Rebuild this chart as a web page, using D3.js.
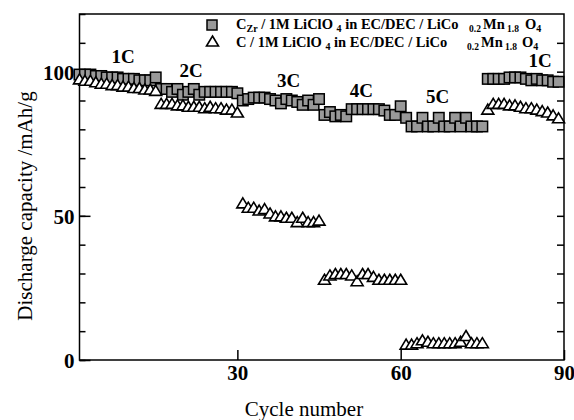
<!DOCTYPE html>
<html lang="en">
<head>
    <meta charset="UTF-8">
    <title>Discharge capacity vs cycle number</title>
    <script src="https://d3js.org/d3.v7.min.js"></script>
    <style>
        body, html {
            margin: 0;
            padding: 0;
            background: #fff;
            overflow: hidden;
        }
        svg text {
            font-family: "Liberation Serif", "Times New Roman", serif;
            fill: #000;
        }
    </style>
</head>
<body>
    <div id="chart"></div>

    <script>
        // cycle numbers
        const cycles = d3.range(1, 90);

        // C_Zr cell (gray squares), 1C / 2C / 3C / 4C / 5C / 1C
        const czrValues = [
            99, 99, 99, 98.5, 98.5, 98, 98, 98, 97.5, 97.5, 97.5, 97, 97, 97, 98,
            94, 94, 93, 94, 92, 93, 94, 92, 93, 93, 93, 93, 93, 93, 92.5,
            90, 90.5, 91, 91, 91, 90.5, 90, 89, 90.5, 90, 89.5, 88.5, 90, 88.5, 90.5,
            85, 86, 84.5, 85, 84.5, 87, 87, 87, 87, 87, 87, 86.5, 85, 85, 88,
            84, 81, 81, 84, 81, 81, 84, 81, 81, 84, 81, 84, 81, 81, 81,
            97.5, 97.5, 97.5, 97.5, 98, 98, 98, 97.5, 97, 97.5, 97, 97, 96.5, 96.5
        ];

        // C cell (open triangles)
        const cValues = [
            97.5, 97, 97, 96.5, 96, 96, 95.5, 95.5, 95, 95, 94.5, 94.5, 94, 94, 93.5,
            89, 89, 89, 88.5, 88.5, 88, 88, 88, 87.5, 88, 87.5, 87.5, 87, 87, 86,
            54.5, 53, 53, 52, 52.5, 51, 50, 50, 49.5, 49.5, 48, 49.5, 48, 48, 48.5,
            28, 29.5, 30, 30, 30, 29.5, 27.5, 30, 30, 29, 28, 28, 28, 28, 28,
            5.5, 5.5, 6, 7, 6.5, 6, 6, 6, 6, 6, 6.5, 8.5, 6, 6, 6,
            87, 89, 89, 89, 88.5, 88.5, 88, 87.5, 87.5, 87, 86.5, 86, 85, 84
        ];

        const rateLabels = ["1C", "2C", "3C", "4C", "5C", "1C"];
        const rateLabelPos = [[9, 103], [21.5, 98.2], [39.4, 94.7], [52.8, 91.2], [66.8, 89.1], [85.6, 101.6]];

        const xTicks = [30, 60, 90];
        const yMajor = [0, 50, 100];
        const yMinor = d3.range(0, 121, 10);

        const width = 574, height = 420;
        const margin = {top: 14, right: 10, bottom: 60, left: 79.5};

        const svg = d3.select("#chart").append("svg")
            .attr("width", width)
            .attr("height", height);

        const x = d3.scaleLinear().domain([1, 90]).range([margin.left, width - margin.right]);
        const y = d3.scaleLinear().domain([0, 120]).range([height - margin.bottom, margin.top]);

        const x0 = x.range()[0], x1 = x.range()[1];
        const y0 = y.range()[0], y1 = y.range()[1];

        // frame
        svg.append("rect")
            .attr("x", x0).attr("y", y1)
            .attr("width", x1 - x0).attr("height", y0 - y1)
            .attr("fill", "none").attr("stroke", "#000").attr("stroke-width", 1.5);

        // left axis: minor ticks inward, major labelled
        svg.append("g").attr("transform", `translate(${x0},0)`)
            .call(d3.axisLeft(y).tickValues(yMinor).tickSizeInner(-6).tickSizeOuter(0).tickFormat(""));
        svg.append("g").attr("transform", `translate(${x0},0)`)
            .call(d3.axisLeft(y).tickValues(yMajor).tickSizeInner(-11).tickSizeOuter(0).tickPadding(5))
            .call(g => g.selectAll("text").style("font-size", "21px").style("font-weight", "bold")
                .attr("dy", "0.35em"));

        // right axis
        svg.append("g").attr("transform", `translate(${x1},0)`)
            .call(d3.axisRight(y).tickValues(yMinor.filter(d => d > 0 && d < 120)).tickSizeInner(-7).tickSizeOuter(0).tickFormat(""));

        // bottom axis
        svg.append("g").attr("transform", `translate(0,${y0})`)
            .call(d3.axisBottom(x).tickValues(xTicks).tickSizeInner(-10).tickSizeOuter(0).tickPadding(5))
            .call(g => g.selectAll("text").style("font-size", "21px").style("font-weight", "bold"));

        svg.selectAll(".domain").remove();
        svg.selectAll(".tick line").attr("stroke", "#000").attr("stroke-width", 1.5);

        // axis titles
        svg.append("text")
            .attr("x", 304)
            .attr("y", 416)
            .attr("text-anchor", "middle")
            .style("font-size", "21px")
            .text("Cycle number");

        svg.append("text")
            .attr("transform", `translate(32,206) rotate(-90)`)
            .attr("text-anchor", "middle")
            .style("font-size", "21px")
            .text("Discharge capacity /mAh/g");

        // markers
        const squareSize = 10.5;
        const triangle = (cx, cy) => {
            const w = 6, h = 5;
            return `M${cx},${cy - h}L${cx + w},${cy + h}L${cx - w},${cy + h}Z`;
        };

        const sqData = cycles.map((c, i) => ({c, v: czrValues[i]}));
        const trData = cycles.map((c, i) => ({c, v: cValues[i]}));

        svg.append("g").selectAll("rect")
            .data(sqData)
            .enter().append("rect")
            .attr("x", d => x(d.c) - squareSize / 2)
            .attr("y", d => y(d.v) - squareSize / 2)
            .attr("width", squareSize)
            .attr("height", squareSize)
            .attr("fill", "#999")
            .attr("stroke", "#000")
            .attr("stroke-width", 1.5);

        svg.append("g").selectAll("path")
            .data(trData)
            .enter().append("path")
            .attr("d", d => triangle(x(d.c), y(d.v)))
            .attr("fill", "#fff")
            .attr("stroke", "#000")
            .attr("stroke-width", 1.6);

        // rate labels
        svg.append("g").selectAll("text")
            .data(rateLabels)
            .enter().append("text")
            .attr("x", (d, i) => x(rateLabelPos[i][0]))
            .attr("y", (d, i) => y(rateLabelPos[i][1]))
            .attr("text-anchor", "middle")
            .style("font-size", "19px")
            .style("font-weight", "bold")
            .text(d => d);

        // legend
        const legend = svg.append("g").style("font-weight", "bold");
        legend.append("rect")
            .attr("x", 207).attr("y", 20).attr("width", 10).attr("height", 10)
            .attr("fill", "#999").attr("stroke", "#000").attr("stroke-width", 1.5);
        legend.append("path")
            .attr("d", triangle(212.5, 41))
            .attr("fill", "#fff").attr("stroke", "#000").attr("stroke-width", 1.6);

        const row1 = legend.append("text").attr("x", 236).attr("y", 29).style("font-size", "14.5px");
        row1.append("tspan").text("C");
        row1.append("tspan").attr("dy", 2.5).style("font-size", "10px").text("Zr");
        row1.append("tspan").attr("dy", -2.5).text(" / 1M LiClO ");
        row1.append("tspan").attr("dy", 2.5).style("font-size", "10px").text("4");
        row1.append("tspan").attr("dy", -2.5).text(" in EC/DEC / LiCo");
        row1.append("tspan").attr("x", 469).attr("dy", 2.5).style("font-size", "9.5px").text("0.2");
        row1.append("tspan").attr("x", 483).attr("dy", -2.5).text("Mn");
        row1.append("tspan").attr("x", 507).attr("dy", 2.5).style("font-size", "9.5px").text("1.8");
        row1.append("tspan").attr("x", 525).attr("dy", -2.5).text("O");
        row1.append("tspan").attr("dy", 2.5).style("font-size", "10px").text("4");

        const row2 = legend.append("text").attr("x", 236).attr("y", 47).style("font-size", "14.5px");
        row2.append("tspan").text("C / 1M LiClO ");
        row2.append("tspan").attr("dy", 2.5).style("font-size", "10px").text("4");
        row2.append("tspan").attr("dy", -2.5).text(" in EC/DEC / LiCo");
        row2.append("tspan").attr("x", 467).attr("dy", 2.5).style("font-size", "9.5px").text("0.2");
        row2.append("tspan").attr("x", 481).attr("dy", -2.5).text("Mn");
        row2.append("tspan").attr("x", 505).attr("dy", 2.5).style("font-size", "9.5px").text("1.8");
        row2.append("tspan").attr("x", 522).attr("dy", -2.5).text("O");
        row2.append("tspan").attr("dy", 2.5).style("font-size", "10px").text("4");
    </script>
</body>
</html>
